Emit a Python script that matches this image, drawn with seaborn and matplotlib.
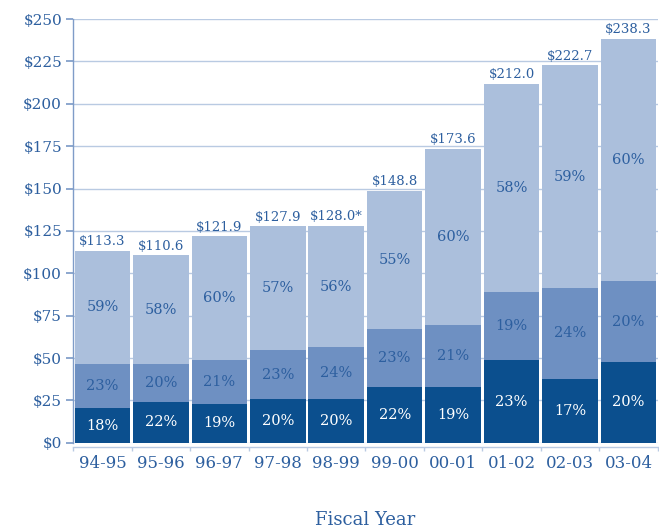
import matplotlib
matplotlib.use("Agg")
import matplotlib.pyplot as plt
import seaborn as sns
import numpy as np
import pandas as pd

years = ["94-95", "95-96", "96-97", "97-98", "98-99", "99-00", "00-01", "01-02", "02-03", "03-04"]
totals = [113.3, 110.6, 121.9, 127.9, 128.0, 148.8, 173.6, 212.0, 222.7, 238.3]
total_labels = ["$113.3", "$110.6", "$121.9", "$127.9", "$128.0*", "$148.8", "$173.6", "$212.0", "$222.7", "$238.3"]
pct_bottom = [18, 22, 19, 20, 20, 22, 19, 23, 17, 20]
pct_middle = [23, 20, 21, 23, 24, 23, 21, 19, 24, 20]
pct_top = [59, 58, 60, 57, 56, 55, 60, 58, 59, 60]
y_ticks = [0, 25, 50, 75, 100, 125, 150, 175, 200, 225, 250]
y_tick_labels = ["$0", "$25", "$50", "$75", "$100", "$125", "$150", "$175", "$200", "$225", "$250"]

DARK = "#0b4f8e"
MID = "#6e90c2"
LIGHT = "#abbfdc"
TEXT = "#2d5f9f"

sns.set_theme(style="white")
plt.rcParams["font.family"] = ["DejaVu Serif", "Liberation Serif"]

tot = np.array(totals)
b = tot * np.array(pct_bottom) / 100.0
m = tot * np.array(pct_middle) / 100.0
cum1 = b
cum2 = b + m

df = pd.DataFrame({"year": years, "total": tot, "cum2": cum2, "cum1": cum1})

fig = plt.figure(figsize=(6.59, 5.31), dpi=100)
ax = fig.add_axes([0.111, 0.166, 0.887, 0.798])

W = 0.95
sns.barplot(data=df, x="year", y="total", order=years, color=LIGHT, saturation=1, width=W, ax=ax, linewidth=0, zorder=2)
sns.barplot(data=df, x="year", y="cum2", order=years, color=MID, saturation=1, width=W, ax=ax, linewidth=0, zorder=3)
sns.barplot(data=df, x="year", y="cum1", order=years, color=DARK, saturation=1, width=W, ax=ax, linewidth=0, zorder=4)

ax.set_xlim(-0.5, 9.5)
ax.set_ylim(0, 250)
ax.set_yticks(y_ticks)
ax.set_yticklabels(y_tick_labels)
ax.yaxis.grid(True, color="#b9cae2", linewidth=1.0, zorder=0)
ax.set_axisbelow(True)

for s in ["top", "right"]:
    ax.spines[s].set_visible(False)
ax.spines["left"].set_color("#7f9cc8")
ax.spines["left"].set_linewidth(1.0)
ax.spines["bottom"].set_color("#b9cae2")
ax.spines["bottom"].set_linewidth(1.0)
ax.spines["bottom"].set_position(("outward", 3))

ax.tick_params(axis="y", which="major", left=True, length=5, color="#7f9cc8", labelsize=11, labelcolor=TEXT, pad=3)
ax.tick_params(axis="x", which="major", bottom=False, labelsize=12, labelcolor=TEXT, pad=0)
ax.set_xticks(np.arange(-0.5, 10, 1.0), minor=True)
ax.tick_params(axis="x", which="minor", bottom=True, length=3, color="#b9cae2")

ax.set_xlabel("Fiscal Year", fontsize=13, color=TEXT, labelpad=28)
ax.set_ylabel("")

for i in range(len(years)):
    ax.text(i, tot[i] + 1.5, total_labels[i], ha="center", va="bottom", fontsize=9.5, color=TEXT, zorder=6)
    ax.text(i, cum1[i] / 2, f"{pct_bottom[i]}%", ha="center", va="center", fontsize=10.5, color="white", zorder=6)
    ax.text(i, (cum1[i] + cum2[i]) / 2, f"{pct_middle[i]}%", ha="center", va="center", fontsize=10.5, color=TEXT, zorder=6)
    ax.text(i, (cum2[i] + tot[i]) / 2, f"{pct_top[i]}%", ha="center", va="center", fontsize=10.5, color=TEXT, zorder=6)

fig.savefig("out.png", dpi=100)
